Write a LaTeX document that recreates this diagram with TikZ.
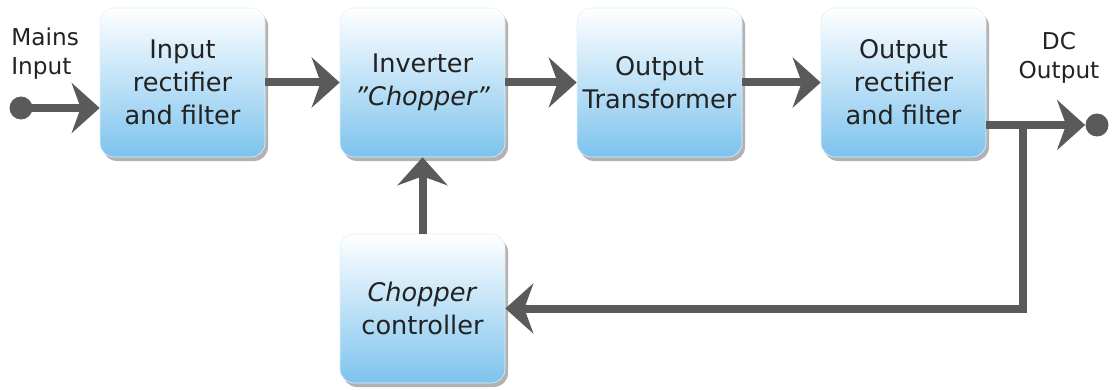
\documentclass[tikz,border=0pt]{standalone}
\usepackage{fontspec}
\setmainfont{DejaVu Sans}
\usetikzlibrary{arrows.meta,shadows,calc}
\definecolor{boxblue}{HTML}{7DC3EE}
\definecolor{wire}{HTML}{5A5A5A}
\definecolor{txt}{HTML}{222222}
\tikzset{
  blk/.style={rounded corners=7pt, minimum width=82.5pt, minimum height=74.5pt,
    top color=white, bottom color=boxblue, draw=boxblue!25!white, line width=0.3pt,
    align=center, font=\fontsize{12.8}{16.5}\selectfont, inner sep=0pt, text=txt,
    drop shadow={shadow xshift=1.5pt, shadow yshift=-2pt, opacity=0.3, fill=black}},
  wirel/.style={draw=wire, line width=4pt,
    -{Stealth[length=14pt, width=25pt, inset=4.5pt]}},
  dot/.style={circle, fill=wire, inner sep=0pt, minimum size=11.5pt},
  lbl/.style={font=\fontsize{11.6}{14.5}\selectfont, inner sep=0pt, text=txt}
}
\begin{document}
\begin{tikzpicture}[x=0.5pt, y=-0.5pt]
\useasboundingbox (0,0) rectangle (1112,390);
\node[blk] (b1) at (182.5,82.5) {Input\\rectifier\\and filter};
\node[blk] (b2) at (422.5,82.5) {Inverter\\\textit{\symbol{34}Chopper\symbol{34}}};
\node[blk] (b3) at (659.5,82.5) {Output\\Transformer};
\node[blk] (b4) at (903.5,82.5) {Output\\rectifier\\and filter};
\node[blk] (b5) at (422.5,308.5) {\textit{Chopper}\\controller};
\node[dot] (m) at (21,108) {};
\node[dot] (dc) at (1097,125) {};
\node[lbl, align=left, anchor=west] (ml) at (11,54) {Mains\\Input};
\node[lbl, align=center] (dl) at (1059,58) {DC\\Output};
\coordinate (br) at (1023,125);
\draw[wirel] (m.center) -- (b1.west |- m);
\draw[wirel] (b1.east) -- (b2.west);
\draw[wirel] (b2.east) -- (b3.west);
\draw[wirel] (b3.east) -- (b4.west);
\draw[wirel] (b4.east |- dc) -- (dc.west);
\draw[wirel] (br) |- (b5.east);
\draw[wirel] (b5.north) -- (b2.south);
\end{tikzpicture}
\end{document}
